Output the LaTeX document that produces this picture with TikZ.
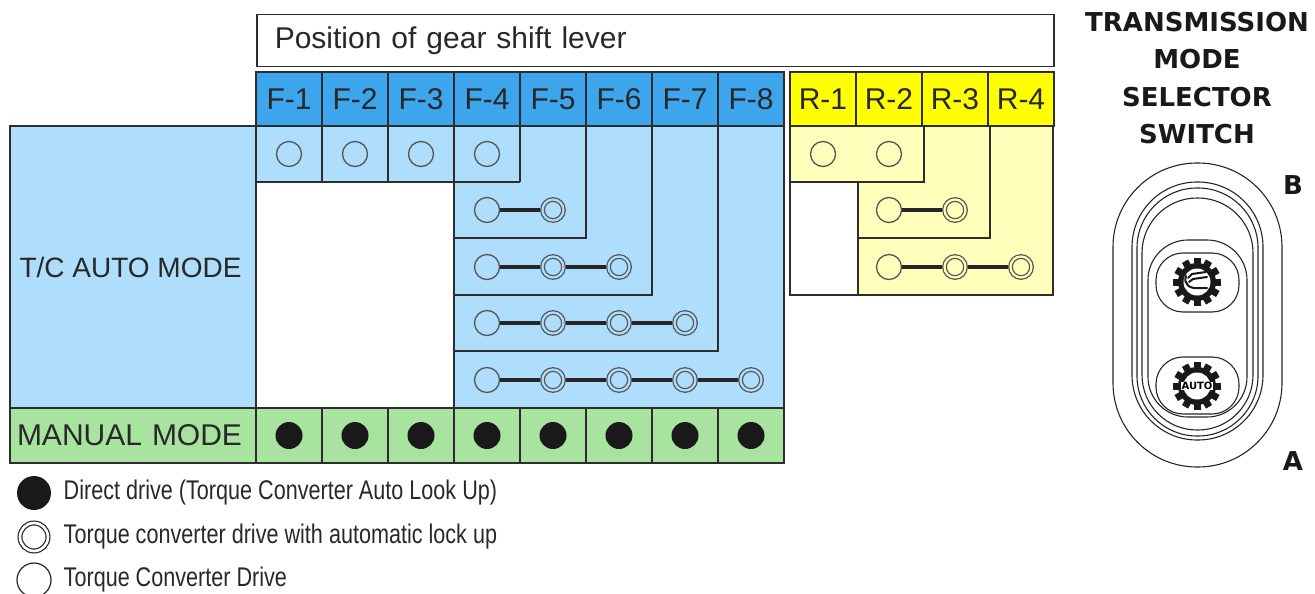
\documentclass[tikz,border=0pt]{standalone}
\usepackage{fontspec}
\setmainfont{Liberation Sans}
\newfontfamily\legendfont[FakeStretch=0.8]{Liberation Sans}
\newfontfamily\titlefont{DejaVu Sans}
\usetikzlibrary{positioning}

\definecolor{headblue}{RGB}{60,165,235}
\definecolor{cellblue}{RGB}{175,222,252}
\definecolor{headyellow}{RGB}{255,255,0}
\definecolor{cellyellow}{RGB}{255,255,188}
\definecolor{cellgreen}{RGB}{168,228,160}
\definecolor{rulegray}{RGB}{45,45,45}
\definecolor{ringgray}{RGB}{85,85,85}
\definecolor{textgray}{RGB}{40,40,40}

\begin{document}
\begin{tikzpicture}[x=1pt, y=-1pt,
  rule/.style = {draw=rulegray, line width=1.5pt},
  tabtext/.style = {font=\fontsize{30}{34}\selectfont, text=textgray},
  cell/.style = {rule, tabtext, minimum width=66pt, minimum height=54pt, inner sep=0pt},
  open/.style = {circle, draw=ringgray, line width=1.3pt, minimum size=25pt, inner sep=0pt},
  lockup/.style = {circle, draw=ringgray, line width=1.3pt, double=#1, double distance=2.2pt,
    minimum size=21pt, inner sep=0pt, outer sep=2.4pt},
  direct/.style = {circle, fill=black!90, minimum size=27pt, inner sep=0pt},
  link/.style = {line width=4pt, black!85},
  legtext/.style = {font=\legendfont\fontsize{27}{30}\selectfont, text=textgray},
  switchline/.style = {draw=black!85, line width=1.1pt},
  title/.style = {font=\titlefont\bfseries\fontsize{26}{37.5}\selectfont, align=center, text=black!90},
  gear/.pic = {
    \fill[black!90] (0,0) circle (19pt);
    \foreach \a in {0,30,...,330} \fill[black!90, rotate=\a] (-3.5,14) rectangle (3.5,24);
    \fill[white] (0,0) circle (13.5pt);
  }
]
\useasboundingbox (0,0) rectangle (1315,594);

% header
\node[rule, tabtext, anchor=north west, minimum width=797pt, minimum height=52pt,
  text width=761pt, inner xsep=18pt, align=left] (pos) at (256,14) {Position of gear shift lever};
\foreach \i in {1,...,8}
  \node[cell, fill=headblue] (f\i) at (223+66*\i,99) {F-\i};
\foreach \i in {1,...,4}
  \node[cell, fill=headyellow] (r\i) at (757+66*\i,99) {R-\i};

% T/C auto mode, forward
\fill[cellblue] (10,126) rectangle (784,408);
\fill[white] (256,182) rectangle (454,408);
\draw[rule] (10,126) rectangle (784,408);
\draw[rule] (256,126) -- (256,408);
\foreach \x in {322,388,454,520} \draw[rule] (\x,126) -- (\x,182);
\draw[rule] (256,182) -- (520,182);
\draw[rule] (454,182) -- (454,408);
\draw[rule] (586,126) |- (454,238);
\draw[rule] (652,126) |- (454,295);
\draw[rule] (718,126) |- (454,351);
\node[tabtext, font=\fontsize{28}{32}\selectfont, anchor=west] (tc) at (16,267) {T/C AUTO MODE};

\foreach \i in {1,...,4}
  \node[open] (t0-\i) at (223+66*\i,154) {};
\foreach \n/\y in {1/210, 2/267, 3/323, 4/380} {
  \node[open] (t\n-0) at (487,\y) {};
  \foreach \m in {1,...,\n} {
    \pgfmathtruncatemacro\p{\m-1}
    \node[lockup=cellblue] (t\n-\m) at (487+66*\m,\y) {};
    \draw[link] (t\n-\p) -- (t\n-\m);
  }
}

% T/C auto mode, reverse
\fill[cellyellow] (790,126) rectangle (1053,295);
\fill[white] (790,182) rectangle (858,295);
\draw[rule] (790,126) rectangle (1053,295);
\draw[rule] (924,126) |- (790,182);
\draw[rule] (858,182) -- (858,295);
\draw[rule] (990,126) |- (858,238);

\node[open] (s0-1) at (823,154) {};
\node[open] (s0-2) at (889,154) {};
\node[open] (s1-0) at (889,210) {};
\node[lockup=cellyellow] (s1-1) at (955,210) {};
\node[open] (s2-0) at (889,267) {};
\node[lockup=cellyellow] (s2-1) at (955,267) {};
\node[lockup=cellyellow] (s2-2) at (1021,267) {};
\draw[link] (s1-0) -- (s1-1);
\draw[link] (s2-0) -- (s2-1);
\draw[link] (s2-1) -- (s2-2);

% manual mode
\node[rule, tabtext, fill=cellgreen, minimum width=246pt, minimum height=55pt,
  text width=232pt, inner xsep=7pt, align=left] (manual) at (133,435.5) {MANUAL MODE};
\foreach \i in {1,...,8} {
  \node[cell, fill=cellgreen, minimum height=55pt] (m\i) at (223+66*\i,435.5) {};
  \node[direct] (d\i) at (m\i) {};
}

% legend
\node[direct, minimum size=34pt] (kd) at (34,493) {};
\node[circle, draw=black!85, line width=1.2pt, double=white, double distance=2.6pt,
  minimum size=28pt, inner sep=0pt] (kl) at (34,537) {};
\node[circle, draw=black!85, line width=1.2pt, minimum size=34pt, inner sep=0pt] (ko) at (34,580) {};
\node[legtext, right=9pt of kd] (kdt) {Direct drive (Torque Converter Auto Look Up)};
\node[legtext, right=9pt of kd.east |- kl] (klt) {Torque converter drive with automatic lock up};
\node[legtext, right=9pt of kd.east |- ko] (kot) {Torque Converter Drive};

% selector switch
\node[title] (ttl) at (1197,78) {TRANSMISSION\\MODE\\SELECTOR\\SWITCH};
\node[title] (b) at (1293,185) {B};
\node[title] (a) at (1293,461) {A};
\draw[switchline, rounded corners=84pt] (1113,163) rectangle (1282,467);
\draw[switchline, rounded corners=65pt] (1132,182) rectangle (1263,440);
\draw[switchline, rounded corners=60pt] (1137,188) rectangle (1258,436);
\draw[switchline, rounded corners=55pt] (1142,198) rectangle (1253,430);
\draw[switchline, rounded corners=40pt] (1148,240) rectangle (1247,417);
\draw[switchline, rounded corners=27pt] (1156,253) rectangle (1239,312);
\draw[switchline, rounded corners=27pt] (1156,357) rectangle (1239,414);
\pic at (1197,282) {gear};
\draw[black!90, line width=2pt, line cap=round, line join=round]
  (1188,278) -- (1192,274) -- (1206,272) (1189,282) -- (1193,279) -- (1207,277)
  (1186,276) .. controls (1183,284) and (1190,289) .. (1198,288) -- (1207,288);
\pic at (1197,386) {gear};
\node[font=\titlefont\bfseries\fontsize{10}{10}\selectfont, fill=white, inner sep=0.6pt] (auto) at (1197,386) {AUTO};
\end{tikzpicture}
\end{document}
